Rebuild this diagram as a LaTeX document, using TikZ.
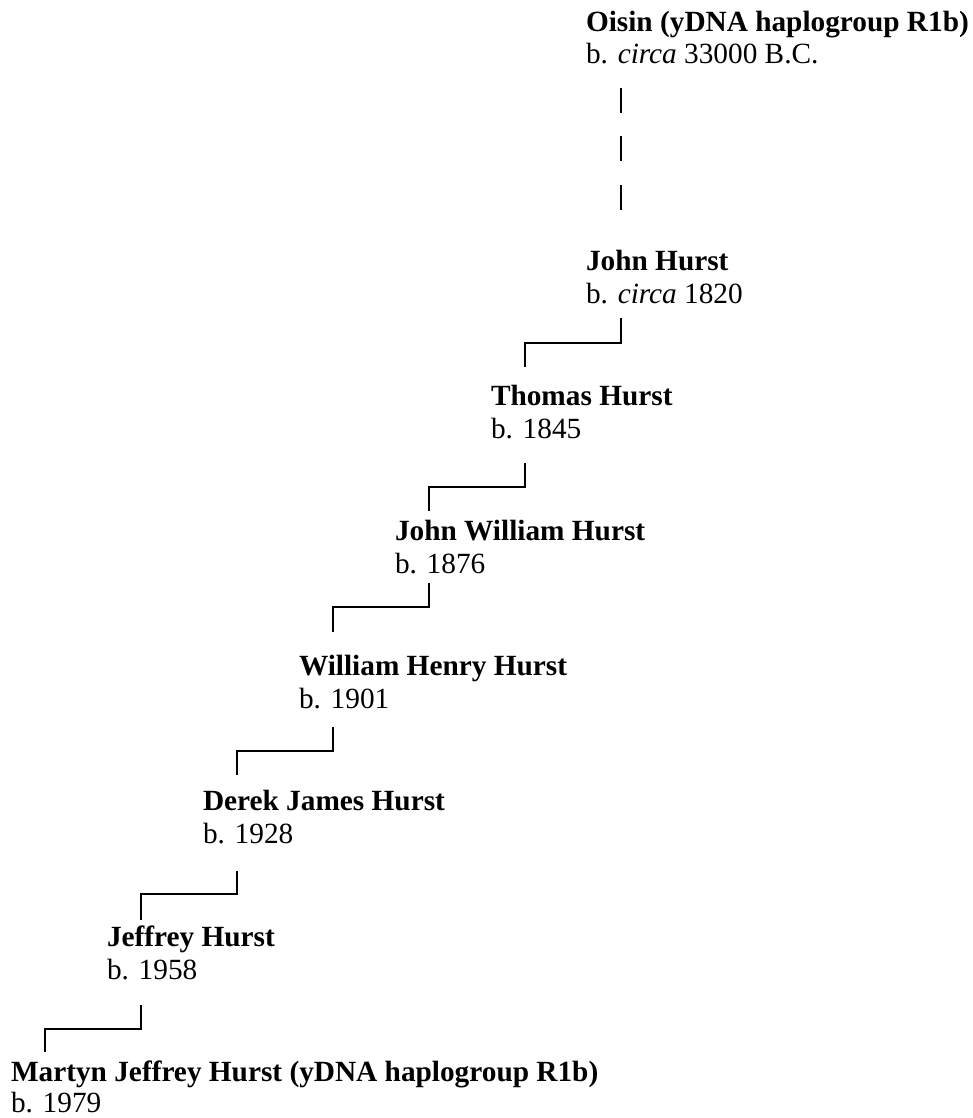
\documentclass[tikz,border=0pt]{standalone}
\usepackage{fontspec}
\setmainfont{Liberation Serif}
\begin{document}
\begin{tikzpicture}[x=1pt,y=-1pt,
  person/.style={anchor=base west,inner sep=0pt,outer sep=0pt,font=\fontsize{29.3}{33}\selectfont\bfseries},
  born/.style={anchor=base west,inner sep=0pt,outer sep=0pt,font=\fontsize{29.3}{33}\selectfont},
  link/.style={line width=1.9pt,line cap=butt,line join=miter,black}]
\useasboundingbox (0,0) rectangle (973,1118);
% people
\node[person] (oisin) at (586,31.5) {Oisin (yDNA haplogroup R1b)};
\node[born] (oisind) at (586,63.5) {b. \textit{circa} 33000 B.C.};
\node[person] (john) at (586,270) {John Hurst};
\node[born] (johnd) at (586,303) {b. \textit{circa} 1820};
\node[person] (thomas) at (491,405) {Thomas Hurst};
\node[born] (thomasd) at (491,438) {b. 1845};
\node[person] (jw) at (395,540) {John William Hurst};
\node[born] (jwd) at (395,573.5) {b. 1876};
\node[person] (wh) at (299,675) {William Henry Hurst};
\node[born] (whd) at (299,708.5) {b. 1901};
\node[person] (derek) at (203,810) {Derek James Hurst};
\node[born] (derekd) at (203,843.5) {b. 1928};
\node[person] (jeff) at (107,946) {Jeffrey Hurst};
\node[born] (jeffd) at (107,979) {b. 1958};
\node[person] (martyn) at (11,1081) {Martyn Jeffrey Hurst (yDNA haplogroup R1b)};
\node[born] (martynd) at (11,1112.5) {b. 1979};
% connector end points
\coordinate (d0s) at (621,88);
\coordinate (d0e) at (621,209.6);
\coordinate (c1s) at (621,318);   \coordinate (c1e) at (525,367);
\coordinate (c2s) at (525,463);   \coordinate (c2e) at (429,511);
\coordinate (c3s) at (429,583);   \coordinate (c3e) at (333,632);
\coordinate (c4s) at (333,727);   \coordinate (c4e) at (237,775);
\coordinate (c5s) at (237,871);   \coordinate (c5e) at (141,920);
\coordinate (c6s) at (141,1005);  \coordinate (c6e) at (45,1052);
% connectors
\draw[link,dash pattern=on 25pt off 23.3pt] (d0s) -- (d0e);
\draw[link] (c1s) -- ++(0,25) -| (c1e);
\draw[link] (c2s) -- ++(0,24) -| (c2e);
\draw[link] (c3s) -- ++(0,24) -| (c3e);
\draw[link] (c4s) -- ++(0,24) -| (c4e);
\draw[link] (c5s) -- ++(0,23) -| (c5e);
\draw[link] (c6s) -- ++(0,24) -| (c6e);
\end{tikzpicture}
\end{document}
